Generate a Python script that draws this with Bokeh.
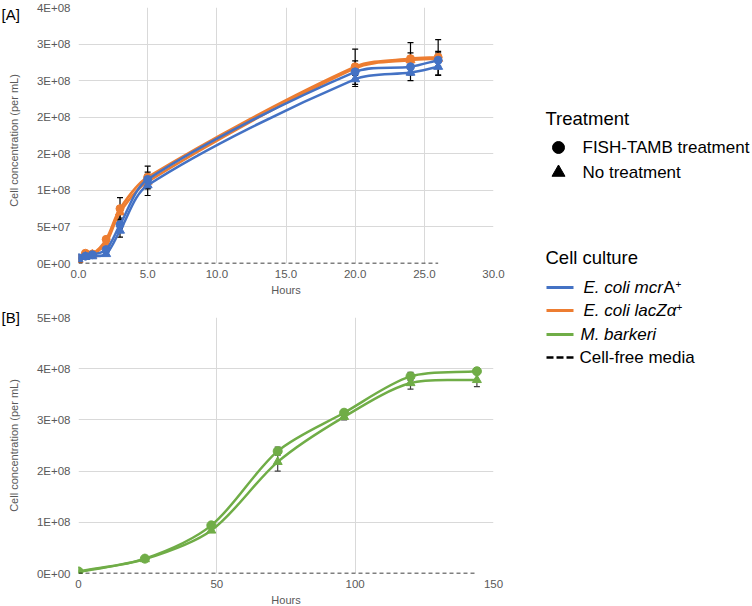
import numpy as np
from bokeh.plotting import figure
from bokeh.models import Range1d, FixedTicker, ColumnDataSource, Whisker, TeeHead, Title
from bokeh.layouts import row, column
from bokeh.embed import file_html
from bokeh.resources import INLINE
from bokeh.core.properties import value

FONT = "Liberation Sans"
BLUE = "#4472c4"
ORANGE = "#ed7d31"
GREEN = "#70ad47"
GRID = "#d9d9d9"
TICK = "#595959"

# ---------------- Panel A data ----------------
hours_a = [0, 0.5, 1, 2, 3, 5, 20, 24, 26]
mcr_fish = [8e6, 1.0e7, 1.2e7, 1.9e7, 5.3e7, 1.15e8, 2.62e8, 2.69e8, 2.78e8]
mcr_none = [6e6, 9e6, 1.0e7, 1.3e7, 4.5e7, 1.07e8, 2.52e8, 2.61e8, 2.69e8]
lac_fish = [7e6, 1.4e7, 1.3e7, 3.3e7, 7.5e7, 1.18e8, 2.69e8, 2.80e8, 2.82e8]
lac_none = [5e6, 1.1e7, 1.2e7, 2.8e7, 7.0e7, 1.12e8, 2.67e8, 2.78e8, 2.80e8]
mcr_fish_err = [0, 0, 0, 0, 5e6, 1.0e7, 1.0e7, 1.0e7, 1.0e7]
mcr_none_err = [0, 0, 0, 0, 9e6, 1.4e7, 1.0e7, 1.1e7, 1.2e7]
lac_fish_err = [0, 0, 0, 0, 1.5e7, 1.5e7, 2.4e7, 2.2e7, 2.4e7]
lac_none_err = [0, 0, 0, 0, 8e6, 1.0e7, 1.0e7, 1.0e7, 1.0e7]
media_a_hours = [0, 26]
media_a = [0, 0]

ticks_a_x = [0, 5, 10, 15, 20, 25, 30]
labels_a_x = ["0.0", "5.0", "10.0", "15.0", "20.0", "25.0", "30.0"]
ticks_a_y = [0, 5e7, 1e8, 1.5e8, 2e8, 2.5e8, 3e8, 3.5e8]
labels_a_y = ["0E+00", "5E+07", "1E+08", "2E+08", "2E+08", "3E+08", "3E+08", "4E+08"]

# ---------------- Panel B data ----------------
hours_b = [0, 24, 48, 72, 96, 120, 144]
mb_fish = [4e6, 2.9e7, 9.4e7, 2.39e8, 3.14e8, 3.85e8, 3.95e8]
mb_none = [3e6, 2.8e7, 8.4e7, 2.18e8, 3.06e8, 3.72e8, 3.78e8]
mb_fish_err = [0, 0, 0, 8e6, 6e6, 8e6, 6e6]
mb_none_err = [0, 0, 0, 1.8e7, 6e6, 1.2e7, 1.3e7]
media_b_hours = [0, 144]
media_b = [0, 0]

ticks_b_x = [0, 50, 100, 150]
labels_b_x = ["0", "50", "100", "150"]
ticks_b_y = [0, 1e8, 2e8, 3e8, 4e8, 5e8]
labels_b_y = ["0E+00", "1E+08", "2E+08", "3E+08", "4E+08", "5E+08"]

H = 606  # page height used to place text in the side strips


def smooth(xs, ys, sx, sy, t=0.3):
    X = np.asarray(xs, float) * sx
    Y = np.asarray(ys, float) * sy
    n = len(X)
    dx = np.empty(n)
    dy = np.empty(n)
    for i in range(n):
        a = max(i - 1, 0)
        b = min(i + 1, n - 1)
        tx, ty = X[b] - X[a], Y[b] - Y[a]
        L = np.hypot(tx, ty) or 1.0
        dx[i], dy[i] = tx / L, ty / L
    seg = np.hypot(np.diff(X), np.diff(Y))
    return dict(
        x0=X[:-1] / sx, y0=Y[:-1] / sy, x1=X[1:] / sx, y1=Y[1:] / sy,
        cx0=(X[:-1] + dx[:-1] * seg * t) / sx, cy0=(Y[:-1] + dy[:-1] * seg * t) / sy,
        cx1=(X[1:] - dx[1:] * seg * t) / sx, cy1=(Y[1:] - dy[1:] * seg * t) / sy,
    )


def make_fig(width, height, xr, yr, xt, xl, yt, yl, mb, hours_offset):
    p = figure(width=width, height=height, x_range=Range1d(*xr), y_range=Range1d(*yr),
               output_backend="svg", toolbar_location=None,
               min_border_left=mb[0], min_border_right=mb[1],
               min_border_top=mb[2], min_border_bottom=mb[3])
    p.outline_line_color = None
    p.background_fill_color = "white"
    p.border_fill_color = "white"
    p.xaxis.ticker = FixedTicker(ticks=xt)
    p.yaxis.ticker = FixedTicker(ticks=yt)
    p.xaxis.major_label_overrides = {t: s for t, s in zip(xt, xl)}
    p.yaxis.major_label_overrides = {t: s for t, s in zip(yt, yl)}
    for ax in (p.xaxis[0], p.yaxis[0]):
        ax.axis_line_color = None
        ax.major_tick_line_color = None
        ax.minor_tick_line_color = None
        ax.major_tick_out = 0
        ax.major_tick_in = 0
        ax.major_label_text_font = FONT
        ax.major_label_text_font_size = "11.5px"
        ax.major_label_text_color = TICK
    p.xaxis.major_label_standoff = 6
    p.yaxis.major_label_standoff = 8
    p.grid.grid_line_color = GRID
    p.grid.grid_line_width = 1
    p.add_layout(Title(text="Hours", align="center", offset=hours_offset, standoff=2,
                       text_font=FONT, text_font_size="11px", text_font_style="normal",
                       text_color=TICK), "below")
    return p


def add_series(p, xs, ys, errs, color, marker, size, sx, sy, ecolor):
    p.bezier(source=ColumnDataSource(smooth(xs, ys, sx, sy)), x0="x0", y0="y0", x1="x1", y1="y1",
             cx0="cx0", cy0="cy0", cx1="cx1", cy1="cy1", line_color=color, line_width=2.5)
    p.scatter(xs, ys, marker=marker, size=size, fill_color=color, line_color=color)
    sel = [i for i, e in enumerate(errs) if e > 0]
    src = ColumnDataSource(dict(x=[xs[i] for i in sel],
                                upper=[ys[i] + errs[i] for i in sel],
                                lower=[ys[i] - errs[i] for i in sel]))
    w = Whisker(source=src, base="x", upper="upper", lower="lower", line_color=ecolor, line_width=1.2,
                upper_head=TeeHead(size=6, line_color=ecolor, line_width=1.2),
                lower_head=TeeHead(size=6, line_color=ecolor, line_width=1.2))
    p.add_layout(w)


STRIP = 22

# ---------------- Figure A ----------------
pA = make_fig(510 - STRIP, 306, (0, 30), (0, 3.5e8), ticks_a_x, labels_a_x, ticks_a_y, labels_a_y,
              (77 - STRIP, 17, 7, 43), -24)
sxA = 416 / 30.0
syA = 256 / 3.5e8
add_series(pA, hours_a, lac_none, lac_none_err, ORANGE, "triangle", 9, sxA, syA, "black")
add_series(pA, hours_a, lac_fish, lac_fish_err, ORANGE, "circle", 8, sxA, syA, "black")
add_series(pA, hours_a, mcr_none, mcr_none_err, BLUE, "triangle", 9, sxA, syA, "black")
add_series(pA, hours_a, mcr_fish, mcr_fish_err, BLUE, "circle", 8, sxA, syA, "black")
pA.line(media_a_hours, media_a, line_color="black", line_width=1.5, line_dash="4 3")

# ---------------- Figure B ----------------
pB = make_fig(510 - STRIP, 300, (0, 150), (0, 5e8), ticks_b_x, labels_b_x, ticks_b_y, labels_b_y,
              (78 - STRIP, 17, 11, 33), -22)
sxB = 415 / 150.0
syB = 256 / 5e8
add_series(pB, hours_b, mb_none, mb_none_err, GREEN, "triangle", 9, sxB, syB, "#404040")
add_series(pB, hours_b, mb_fish, mb_fish_err, GREEN, "circle", 9, sxB, syB, "#404040")
pB.line(media_b_hours, media_b, line_color="black", line_width=1.5, line_dash="4 3")

# ---------------- Left strip: panel tags and y-axis titles ----------------
pS = figure(width=STRIP, height=H, x_range=Range1d(0, STRIP), y_range=Range1d(0, H),
            output_backend="svg", toolbar_location=None, x_axis_location=None, y_axis_location=None,
            min_border=0)
pS.outline_line_color = None
pS.grid.visible = False
pS.border_fill_color = "white"
pS.text([1, 1], [H - 14, H - 317], text=["[A]", "[B]"], text_font=value(FONT),
        text_font_size=value("15px"), text_color="black", text_baseline="middle", text_align="left")
pS.text([13, 13], [H - 140, H - 445], text=["Cell concentration (per mL)"] * 2, text_font=value(FONT),
        text_font_size=value("11px"), text_color=TICK, text_baseline="middle", text_align="center",
        angle=np.pi / 2)

# ---------------- Legend panel ----------------
pL = figure(width=242, height=H, x_range=Range1d(510, 752), y_range=Range1d(H, 0),
            output_backend="svg", toolbar_location=None, x_axis_location=None, y_axis_location=None,
            min_border=0)
pL.outline_line_color = None
pL.grid.visible = False
pL.border_fill_color = "white"


def ltext(x, y, s, size="17px", style="normal"):
    pL.text([x], [y], text=[s], text_font=value(FONT), text_font_size=value(size),
            text_font_style=style, text_color="black", text_baseline="middle", text_align="left")


ltext(545, 118, "Treatment", "18.5px")
pL.scatter([558], [147], marker="circle", size=12, fill_color="black", line_color="black")
ltext(582, 147, "FISH-TAMB treatment")
pL.scatter([558], [172], marker="triangle", size=13, fill_color="black", line_color="black")
ltext(582, 172, "No treatment")

ltext(545, 257, "Cell culture", "18.5px")
pL.line([546, 573], [287, 287], line_color=BLUE, line_width=3)
ltext(583, 287, "E. coli mcr", style="italic")
ltext(663, 287, "A")
ltext(675, 283, "+", "10px")
pL.line([546, 573], [310, 310], line_color=ORANGE, line_width=3)
ltext(583, 310, "E. coli lacZα", style="italic")
ltext(676, 306, "+", "10px")
pL.line([546, 573], [334, 334], line_color=GREEN, line_width=3)
ltext(580, 334, "M. barkeri", style="italic")
pL.line([546, 575], [357, 357], line_color="black", line_width=2.5, line_dash="7 3")
ltext(579, 357, "Cell-free media")

root = row(pS, column(pA, pB), pL)

open("out.html", "w").write(file_html(root, INLINE))
